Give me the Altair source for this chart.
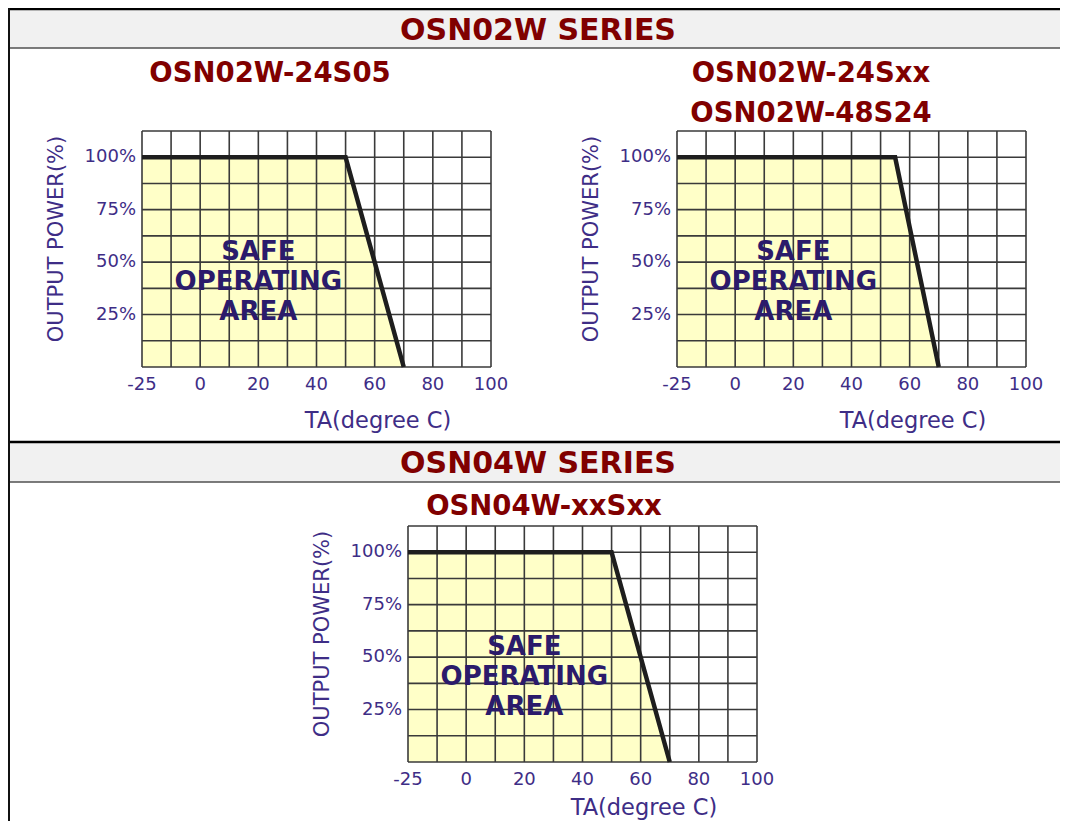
import altair as alt
import pandas as pd

# ---------------- data ----------------
X_TICKS = [-25, 0, 20, 40, 60, 80, 100]
Y_TICKS = [25, 50, 75, 100]
GRID_X = [-25, -12.5, 0, 10, 20, 30, 40, 50, 60, 70, 80, 90, 100]
GRID_Y = [0, 12.5, 25, 37.5, 50, 62.5, 75, 87.5, 100, 112.5]
X_DOMAIN = [-25, 0, 100]
Y_DOMAIN = [0, 112.5]

SERIES = ["OSN02W SERIES", "OSN04W SERIES"]
P1_TITLE = ["OSN02W-24S05"]
P2_TITLE = ["OSN02W-24Sxx", "OSN02W-48S24"]
P3_TITLE = ["OSN04W-xxSxx"]

P1_TEMP = [-25, 50, 70]
P1_POWER = [100, 100, 0]
P2_TEMP = [-25, 55, 70]
P2_POWER = [100, 100, 0]
P3_TEMP = [-25, 50, 70]
P3_POWER = [100, 100, 0]

SOA_TEXT = ["SAFE", "OPERATING", "AREA"]
SOA_X = [20]
SOA_Y = [55]
X_TITLE = "TA(degree C)"
Y_TITLE = "OUTPUT POWER(%)"

# ---------------- style / layout ----------------
FONT = "DejaVu Sans"
RED = "#800000"
PURPLE = "#3e2d86"
SOA_COLOR = "#2b1b6b"
GRID = "#3a3a3a"
FILL = "#ffffc8"
HEADER_FILL = "#f1f1f1"
W, H = 1052, 813
PW, PH = 349, 236

ONE = pd.DataFrame({"k": [0]})


def panel(temp, power, left, top, xt_y):
    xs = alt.Scale(domain=X_DOMAIN, range=[left, left + PW * 2 / 12, left + PW],
                   nice=False, zero=False)
    ys = alt.Scale(domain=Y_DOMAIN, range=[top + PH, top], nice=False, zero=False)
    curve = pd.DataFrame({"temp": temp, "power": power})

    area = alt.Chart(curve).mark_area(color=FILL, opacity=1).encode(
        x=alt.X("temp:Q", scale=xs, axis=None),
        y=alt.Y("power:Q", scale=ys, axis=None),
        y2=alt.Y2(datum=Y_DOMAIN[0]),
    )
    vgrid = alt.Chart(pd.DataFrame({"gx": GRID_X})).mark_rule(
        color=GRID, strokeWidth=1.6).encode(
        x=alt.X("gx:Q", scale=xs, axis=None),
        y=alt.Y(datum=Y_DOMAIN[0], scale=ys, axis=None),
        y2=alt.Y2(datum=Y_DOMAIN[1]),
    )
    hgrid = alt.Chart(pd.DataFrame({"gy": GRID_Y})).mark_rule(
        color=GRID, strokeWidth=1.6).encode(
        y=alt.Y("gy:Q", scale=ys, axis=None),
        x=alt.X(datum=X_DOMAIN[0], scale=xs, axis=None),
        x2=alt.X2(datum=X_DOMAIN[-1]),
    )
    line = alt.Chart(curve).mark_line(color="#1e1e1e", strokeWidth=4.5,
                                      strokeJoin="miter", strokeCap="butt").encode(
        x=alt.X("temp:Q", scale=xs, axis=None),
        y=alt.Y("power:Q", scale=ys, axis=None),
    )
    soa = alt.Chart(pd.DataFrame({"tx": SOA_X, "py": SOA_Y})).mark_text(
        text=SOA_TEXT, font=FONT, fontSize=26, fontWeight="bold", color=SOA_COLOR,
        lineHeight=30, baseline="middle", align="center").encode(
        x=alt.X("tx:Q", scale=xs, axis=None),
        y=alt.Y("py:Q", scale=ys, axis=None),
    )
    xlab = alt.Chart(pd.DataFrame({"v": X_TICKS, "lab": [str(v) for v in X_TICKS]})).mark_text(
        font=FONT, fontSize=18, color=PURPLE, baseline="top", align="center").encode(
        x=alt.X("v:Q", scale=xs, axis=None),
        y=alt.value(top + PH + 9),
        text="lab:N",
    )
    ylab = alt.Chart(pd.DataFrame({"v": Y_TICKS, "lab": [f"{v}%" for v in Y_TICKS]})).mark_text(
        font=FONT, fontSize=18, color=PURPLE, baseline="middle", align="right").encode(
        y=alt.Y("v:Q", scale=ys, axis=None),
        x=alt.value(left - 6),
        text="lab:N",
    )
    xt = alt.Chart(pd.DataFrame({"t": [X_TITLE]})).mark_text(
        font=FONT, fontSize=22.5, color=PURPLE, baseline="alphabetic", align="center",
        x=left + 236, y=xt_y).encode(text="t:N")
    yt = alt.Chart(pd.DataFrame({"t": [Y_TITLE]})).mark_text(
        font=FONT, fontSize=21, color=PURPLE, baseline="middle", align="center",
        angle=270, x=left - 85, y=top + 108).encode(text="t:N")
    return alt.layer(area, vgrid, hgrid, line, soa, xlab, ylab, xt, yt)


def title_text(text, x, y, size):
    return alt.Chart(pd.DataFrame({"t": [text]})).mark_text(
        font=FONT, fontSize=size, fontWeight="bold", color=RED,
        align="center", baseline="alphabetic", x=x, y=y).encode(text="t:N")


def header_box(y0, y1):
    box = alt.Chart(ONE).mark_rect(color=HEADER_FILL).encode(
        x=alt.value(0), x2=alt.value(W), y=alt.value(y0), y2=alt.value(y1))
    top = alt.Chart(ONE).mark_rule(color="#000000", strokeWidth=2.5).encode(
        x=alt.value(0), x2=alt.value(W), y=alt.value(y0 + 1))
    bottom = alt.Chart(ONE).mark_rule(color="#505050", strokeWidth=1.5).encode(
        x=alt.value(0), x2=alt.value(W), y=alt.value(y1))
    return [box, top, bottom]


frame = alt.Chart(ONE).mark_rule(color="#111111", strokeWidth=2).encode(
    x=alt.value(1), y=alt.value(0), y2=alt.value(H))

p1 = panel(P1_TEMP, P1_POWER, 134, 123, 420)
p2 = panel(P2_TEMP, P2_POWER, 669, 123, 420)
p3 = panel(P3_TEMP, P3_POWER, 400, 518, 807)

texts = [
    title_text(SERIES[0], 530, 31.5, 30),
    title_text(SERIES[1], 530, 464.5, 30),
    title_text(P1_TITLE[0], 262, 74, 27.5),
    title_text(P2_TITLE[0], 803, 74, 27.5),
    title_text(P2_TITLE[1], 803, 114, 27.5),
    title_text(P3_TITLE[0], 536, 507, 27.5),
]

chart = alt.layer(
    *header_box(0, 40), *header_box(433, 474), frame, p1, p2, p3, *texts
).resolve_scale(x="independent", y="independent").properties(
    width=W, height=H, padding=0, background="white",
    autosize=alt.AutoSizeParams(type="none"),
).configure(font=FONT, view=alt.ViewConfig(stroke="transparent"))

chart.save("out.html", embed_options={"renderer": "svg", "actions": False})
